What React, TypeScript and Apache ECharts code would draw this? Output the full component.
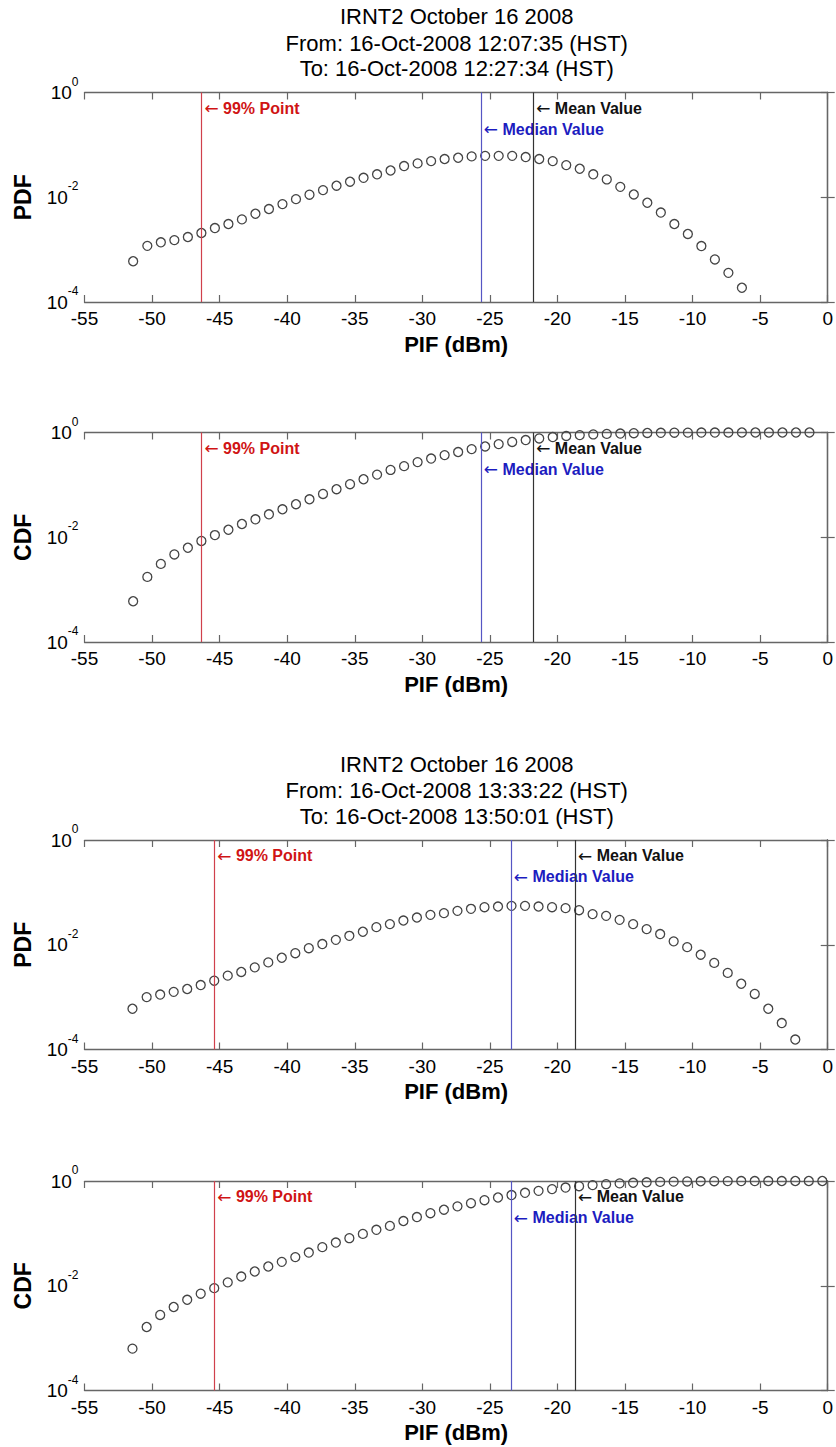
import React, { useEffect, useRef } from "react";
import * as echarts from "echarts";

// ---------- DATA ----------
const titleA = [
  "IRNT2 October 16 2008",
  "From: 16-Oct-2008 12:07:35 (HST)",
  "To: 16-Oct-2008 12:27:34 (HST)",
];
const titleB = [
  "IRNT2 October 16 2008",
  "From: 16-Oct-2008 13:33:22 (HST)",
  "To: 16-Oct-2008 13:50:01 (HST)",
];

const xMin = -55;
const xMax = 0;
const xStep = 5;
const yTickValues = [1e-4, 1e-2, 1];

// Bin centres (dBm), first session
const xBinsA = [
  -51.4, -50.35, -49.35, -48.35, -47.35, -46.35, -45.35, -44.35, -43.35, -42.35,
  -41.35, -40.35, -39.35, -38.35, -37.35, -36.35, -35.35, -34.35, -33.35, -32.35,
  -31.35, -30.35, -29.35, -28.35, -27.35, -26.35, -25.35, -24.35, -23.35, -22.35,
  -21.35, -20.35, -19.35, -18.35, -17.35, -16.35, -15.35, -14.35, -13.35, -12.35,
  -11.35, -10.35, -9.35, -8.35, -7.35, -6.35, -5.35, -4.35, -3.35, -2.35, -1.35,
];
const pdfA = [
  6.0e-4, 1.18e-3, 1.38e-3, 1.52e-3, 1.74e-3, 2.08e-3, 2.58e-3, 3.08e-3, 3.78e-3, 4.84e-3,
  5.96e-3, 7.4e-3, 9.2e-3, 0.0112, 0.0137, 0.0166, 0.0198, 0.0235, 0.0274, 0.0324,
  0.0394, 0.0443, 0.049, 0.0537, 0.0568, 0.0603, 0.0617, 0.0617, 0.0617, 0.0585,
  0.0537, 0.049, 0.0411, 0.035, 0.0274, 0.0219, 0.0158, 0.0113, 7.85e-3, 5.1e-3,
  3.08e-3, 1.99e-3, 1.17e-3, 6.5e-4, 3.6e-4, 1.87e-4,
];
const cdfA = [
  6.0e-4, 1.75e-3, 3.1e-3, 4.7e-3, 6.3e-3, 8.5e-3, 0.011, 0.0139, 0.0179, 0.022,
  0.0274, 0.0342, 0.0427, 0.0531, 0.0671, 0.0826, 0.103, 0.128, 0.157, 0.193,
  0.228, 0.272, 0.318, 0.37, 0.424, 0.482, 0.541, 0.6, 0.66, 0.717,
  0.77, 0.818, 0.858, 0.892, 0.919, 0.94, 0.955, 0.97, 0.98, 0.987,
  0.992, 0.995, 0.997, 0.998, 0.999, 0.9995, 0.9997, 0.9998, 0.9999, 1.0, 1.0,
];
const marksA = { p99: -46.35, median: -25.67, mean: -21.8 };

// Bin centres (dBm), second session
const xBinsB = [
  -51.45, -50.4, -49.4, -48.4, -47.4, -46.4, -45.4, -44.4, -43.4, -42.4,
  -41.4, -40.4, -39.4, -38.4, -37.4, -36.4, -35.4, -34.4, -33.4, -32.4,
  -31.4, -30.4, -29.4, -28.4, -27.4, -26.4, -25.4, -24.4, -23.4, -22.4,
  -21.4, -20.4, -19.4, -18.4, -17.4, -16.4, -15.4, -14.4, -13.4, -12.4,
  -11.4, -10.4, -9.4, -8.4, -7.4, -6.4, -5.4, -4.4, -3.4, -2.4, -1.4, -0.4,
];
const pdfB = [
  6.0e-4, 1.0e-3, 1.12e-3, 1.26e-3, 1.43e-3, 1.7e-3, 2.06e-3, 2.57e-3, 3.02e-3, 3.7e-3,
  4.6e-3, 5.65e-3, 6.9e-3, 8.6e-3, 0.0103, 0.0124, 0.0148, 0.0177, 0.0217, 0.0248,
  0.029, 0.0331, 0.0372, 0.0401, 0.0444, 0.0485, 0.0521, 0.0537, 0.0553, 0.0553,
  0.0537, 0.0521, 0.05, 0.0457, 0.0385, 0.0356, 0.0299, 0.0248, 0.0199, 0.016,
  0.0116, 9.0e-3, 6.45e-3, 4.5e-3, 2.9e-3, 1.8e-3, 1.15e-3, 6.0e-4, 3.2e-4, 1.55e-4,
];
const cdfB = [
  6.3e-4, 1.63e-3, 2.77e-3, 3.93e-3, 5.4e-3, 7.05e-3, 9.0e-3, 0.0116, 0.015, 0.0187,
  0.0233, 0.0286, 0.0352, 0.043, 0.0546, 0.0668, 0.081, 0.0977, 0.117, 0.139,
  0.172, 0.205, 0.243, 0.283, 0.328, 0.377, 0.43, 0.484, 0.539, 0.595,
  0.648, 0.7, 0.75, 0.796, 0.835, 0.87, 0.9, 0.925, 0.945, 0.961,
  0.972, 0.981, 0.988, 0.992, 0.995, 0.997, 0.998, 0.999, 0.9993, 0.9995, 0.9998, 1.0,
];
const marksB = { p99: -45.4, median: -23.45, mean: -18.7 };

const labelY = { p99: 0.5, median: 0.2, mean: 0.5 };
const labelText = { p99: "99% Point", median: "Median Value", mean: "Mean Value" };

// ---------- STYLE / LAYOUT ----------
const FONT = '"Liberation Sans", Arial, Helvetica, sans-serif';
const ARROW_FONT = '"DejaVu Sans", "Liberation Sans", sans-serif';
const GRID_LEFT = 84.5;
const GRID_W = 744.5;
const GRID_H = 209.5;
const GRID_TOPS = [92.5, 432.5, 840, 1181];
const AXIS_COLOR = "#666666";
const RED_LINE = "#d0404c";
const BLUE_LINE = "#5656c4";
const BLACK_LINE = "#333333";
const RED_TEXT = "#d01414";
const BLUE_TEXT = "#1c1cc0";
const BLACK_TEXT = "#111111";

const panels = [
  { title: titleA, yName: "PDF", x: xBinsA, y: pdfA, marks: marksA },
  { title: null, yName: "CDF", x: xBinsA, y: cdfA, marks: marksA },
  { title: titleB, yName: "PDF", x: xBinsB, y: pdfB, marks: marksB },
  { title: null, yName: "CDF", x: xBinsB, y: cdfB, marks: marksB },
];

function annotation(x: number, y: number, text: string, color: string) {
  return {
    value: [x, y],
    label: {
      formatter: `{a|\u2190} ${text}`,
      color,
      rich: { a: { fontFamily: ARROW_FONT, fontWeight: "normal", fontSize: 17, color } },
    },
  };
}

function buildOption() {
  const grid: any[] = [];
  const xAxis: any[] = [];
  const yAxis: any[] = [];
  const series: any[] = [];
  const graphic: any[] = [];

  panels.forEach((p, i) => {
    const top = GRID_TOPS[i];
    grid.push({ left: GRID_LEFT, top, width: GRID_W, height: GRID_H, containLabel: false });

    const axisLine = { show: true, lineStyle: { color: AXIS_COLOR, width: 1.3 } };
    const tick = { show: true, inside: true, length: 7, lineStyle: { color: AXIS_COLOR, width: 1.2 } };

    xAxis.push({
      type: "value",
      gridIndex: i,
      position: "bottom",
      min: xMin,
      max: xMax,
      interval: xStep,
      axisLine,
      axisTick: tick,
      splitLine: { show: false },
      axisLabel: {
        show: true,
        color: "#000",
        fontSize: 19,
        fontFamily: FONT,
        margin: 7,
        showMinLabel: true,
        showMaxLabel: true,
      },
      name: "PIF (dBm)",
      nameLocation: "middle",
      nameGap: 31,
      nameTextStyle: { color: "#000", fontSize: 22, fontWeight: "bold", fontFamily: FONT },
    });
    xAxis.push({
      type: "value",
      gridIndex: i,
      position: "top",
      min: xMin,
      max: xMax,
      interval: xStep,
      axisLine,
      axisTick: tick,
      splitLine: { show: false },
      axisLabel: { show: false },
    });

    yAxis.push({
      type: "log",
      logBase: 10,
      gridIndex: i,
      position: "left",
      min: 1e-4,
      max: 1,
      axisLine,
      axisTick: { ...tick, customValues: yTickValues },
      splitLine: { show: false },
      minorTick: { show: false },
      axisLabel: {
        show: true,
        margin: 6,
        customValues: yTickValues,
        formatter: (v: number) => `{b|10}{s|${Math.round(Math.log10(v))}}`,
        rich: {
          b: { fontSize: 19, fontFamily: FONT, color: "#000", lineHeight: 34, verticalAlign: "middle" },
          s: { fontSize: 12, fontFamily: FONT, color: "#000", verticalAlign: "top" },
        },
      },
      name: p.yName,
      nameLocation: "middle",
      nameGap: 50,
      nameRotate: 90,
      nameTextStyle: { color: "#000", fontSize: 23, fontWeight: "bold", fontFamily: FONT },
    });
    yAxis.push({
      type: "log",
      logBase: 10,
      gridIndex: i,
      position: "right",
      min: 1e-4,
      max: 1,
      axisLine,
      axisTick: { ...tick, customValues: yTickValues },
      splitLine: { show: false },
      minorTick: { show: false },
      axisLabel: { show: false },
    });

    const xi = 2 * i;
    const yi = 2 * i;

    series.push({
      type: "scatter",
      xAxisIndex: xi,
      yAxisIndex: yi,
      symbol: "circle",
      symbolSize: 9,
      silent: true,
      itemStyle: { color: "rgba(255,255,255,0)", borderColor: "#444444", borderWidth: 1.3, opacity: 1 },
      data: p.y.map((v, k) => [p.x[k], v]),
      markLine: {
        silent: true,
        symbol: ["none", "none"],
        label: { show: false },
        emphasis: { disabled: true },
        data: [
          { xAxis: p.marks.p99, lineStyle: { color: RED_LINE, width: 1.2, type: "solid", opacity: 1 } },
          { xAxis: p.marks.median, lineStyle: { color: BLUE_LINE, width: 1.2, type: "solid", opacity: 1 } },
          { xAxis: p.marks.mean, lineStyle: { color: BLACK_LINE, width: 1.2, type: "solid", opacity: 1 } },
        ],
      },
    });

    series.push({
      type: "scatter",
      xAxisIndex: xi,
      yAxisIndex: yi,
      symbolSize: 0,
      silent: true,
      itemStyle: { opacity: 1 },
      label: {
        show: true,
        position: "right",
        distance: 3,
        fontSize: 16,
        fontWeight: "bold",
        fontFamily: FONT,
        opacity: 1,
      },
      data: [
        annotation(p.marks.p99, labelY.p99, labelText.p99, RED_TEXT),
        annotation(p.marks.median, labelY.median, labelText.median, BLUE_TEXT),
        annotation(p.marks.mean, labelY.mean, labelText.mean, BLACK_TEXT),
      ],
    });

    if (p.title) {
      const cx = GRID_LEFT + GRID_W / 2;
      const offsets = [76, 49.5, 24];
      p.title.forEach((line, j) => {
        graphic.push({
          type: "text",
          x: cx,
          y: top - offsets[j],
          style: {
            text: line,
            font: `22px ${FONT}`,
            fill: "#000",
            textAlign: "center",
            textVerticalAlign: "middle",
            align: "center",
            verticalAlign: "middle",
          },
        });
      });
    }
  });

  return {
    animation: false,
    backgroundColor: "#ffffff",
    textStyle: { fontFamily: FONT },
    grid,
    xAxis,
    yAxis,
    series,
    graphic,
  };
}

export default function App() {
  const ref = useRef<HTMLDivElement | null>(null);
  useEffect(() => {
    document.body.style.margin = "0";
    if (!ref.current) return;
    const chart = echarts.init(ref.current, null, { renderer: "svg" });
    chart.setOption(buildOption() as any);
    return () => chart.dispose();
  }, []);
  return <div ref={ref} style={{ width: 836, height: 1447 }} />;
}
